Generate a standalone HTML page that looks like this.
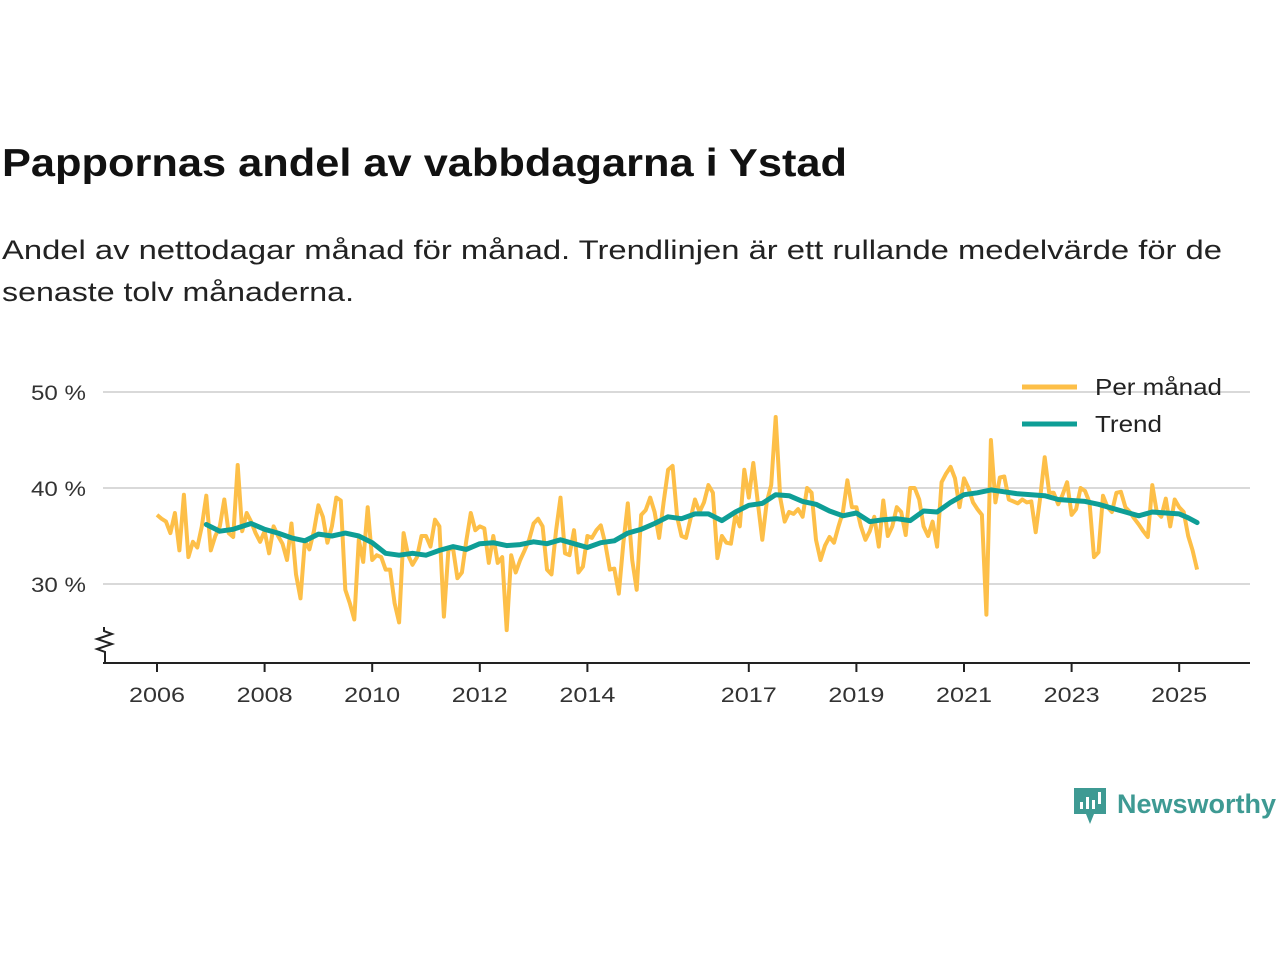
<!DOCTYPE html>
<html><head><meta charset="utf-8"><style>
body{margin:0;background:#fff;width:1280px;height:960px;overflow:hidden;font-family:"Liberation Sans",sans-serif;}
svg text{font-family:"Liberation Sans","DejaVu Sans",sans-serif;}
</style></head><body>
<svg id="chart" width="1280" height="960">
<text x="2" y="176" font-size="39" font-weight="bold" fill="#111" textLength="845" lengthAdjust="spacingAndGlyphs">Pappornas andel av vabbdagarna i Ystad</text>
<text x="2" y="259" font-size="27" fill="#222" textLength="1220" lengthAdjust="spacingAndGlyphs">Andel av nettodagar månad för månad. Trendlinjen är ett rullande medelvärde för de</text>
<text x="2" y="301" font-size="27" fill="#222" textLength="352" lengthAdjust="spacingAndGlyphs">senaste tolv månaderna.</text>
<g id="grid"></g><g id="axes"></g><g id="series"></g>
<g>
<line x1="1022" y1="387" x2="1077" y2="387" stroke="#FDBF48" stroke-width="5"/>
<text x="1095" y="395" font-size="23" fill="#222" textLength="127" lengthAdjust="spacingAndGlyphs">Per månad</text>
<line x1="1022" y1="424" x2="1077" y2="424" stroke="#0E9E96" stroke-width="5"/>
<text x="1095" y="432" font-size="23" fill="#222" textLength="67" lengthAdjust="spacingAndGlyphs">Trend</text>
</g>
<g>
<path d="M1074 788h32v26h-12l-4 10-4-10h-12z" fill="#3E9A93"/>
<rect x="1080" y="802" width="3" height="7" fill="#fff"/><rect x="1086" y="797" width="3" height="12" fill="#fff"/><rect x="1092" y="800" width="3" height="9" fill="#fff"/><rect x="1098" y="792" width="3" height="12" fill="#fff"/>
<text x="1117" y="813" font-size="27" font-weight="bold" fill="#3E9A93" textLength="159" lengthAdjust="spacingAndGlyphs">Newsworthy</text>
</g>
</svg>
<script>
const monthly=[37.2,36.8,36.5,35.3,37.4,33.5,39.3,32.8,34.4,33.8,36,39.2,
33.5,35,36,38.8,35.3,34.9,42.4,35.5,37.4,36.5,35.3,34.4,
35.5,33.2,36,35,34.2,32.5,36.3,31,28.5,34.5,33.6,35.5,
38.2,37,34.3,36,39,38.7,29.4,28,26.3,34.6,32.3,38,
32.5,33,32.8,31.5,31.5,28,26,35.3,33,32,32.8,35,
35,33.9,36.7,36,26.6,33.5,33.8,30.6,31.2,34.5,37.4,35.6,36,35.8,32.2,35,32.2,32.8,25.2,33,31.2,32.5,33.5,34.6,36.3,36.8,36,31.5,31,35.5,39,33.2,33,35.6,31.2,31.8,35,34.8,35.6,36.1,34.2,31.5,31.6,29,34.2,38.4,32.5,29.4,37.2,37.7,39,37.5,34.8,38.5,41.9,42.3,37,35,34.8,36.8,38.8,37.5,38.5,40.3,39.5,32.7,35,
34.3,34.2,37.2,36,41.9,39,42.6,38.5,34.6,38.5,40.3,47.4,39,36.5,37.5,37.3,37.8,37,40,39.5,34.6,32.5,34,34.9,34.3,36,37.5,40.8,38,38,36,34.6,35.5,37,33.9,38.7,35,36,38,37.5,35.1,40,40,38.8,36,35,36.5,33.9,40.6,41.5,42.2,41,38,41,40,38.5,37.8,37.2,26.8,45,38.5,41.1,41.2,38.8,38.6,38.4,38.8,38.5,38.6,35.4,39,43.2,39.5,39.5,38.3,39.3,40.6,37.2,37.8,40,39.7,38.5,32.8,33.3,39.2,38,37.5,39.5,39.6,38,37.5,36.8,36.2,35.5,34.9,40.3,37.5,37,38.9,36,38.8,38,37.5,35,33.5,31.5];
const trendMonths=[11,14,17,21,24,27,30,33,36,39,42,45,48,51,54,57,60,63,66,69,72,75,78,81,84,87,90,93,96,99,102,105,108,111,114,117,120,123,126,129,132,135,138,141,144,147,150,153,156,159,162,165,168,171,174,177,180,183,186,189,192,195,198,201,204,207,210,213,216,219,222,225,228,230,232];
const trendValues=[36.2,35.5,35.7,36.3,35.7,35.3,34.8,34.5,35.2,35,35.3,35,34.3,33.2,33,33.2,33,33.5,33.9,33.6,34.2,34.3,34,34.1,34.4,34.2,34.6,34.2,33.8,34.3,34.5,35.3,35.7,36.3,37,36.8,37.3,37.3,36.6,37.5,38.2,38.4,39.3,39.2,38.6,38.3,37.6,37.1,37.4,36.5,36.7,36.8,36.6,37.6,37.5,38.5,39.3,39.5,39.8,39.6,39.4,39.3,39.2,38.8,38.7,38.6,38.3,37.9,37.5,37.1,37.5,37.4,37.3,36.9,36.4];
const yTicks=[30,40,50];
const yTickLabels=["30 %","40 %","50 %"];
const xTickYears=[2006,2008,2010,2012,2014,2017,2019,2021,2023,2025];
const NS='http://www.w3.org/2000/svg';
const X0=157,PXY=53.8;
function xm(i){return X0+i*PXY/12;}
function xy(yr){return X0+(yr-2006)*PXY;}
function yv(v){return 488-(v-40)*9.6;}
function mk(t,a,p){const e=document.createElementNS(NS,t);for(const k in a)e.setAttribute(k,a[k]);p.appendChild(e);return e;}
const grid=document.getElementById('grid'),axes=document.getElementById('axes'),ser=document.getElementById('series');
yTicks.forEach((v,i)=>{
 const l=mk('line',{x1:103,x2:1250,y1:yv(v),y2:yv(v),stroke:'#d9d9d9','stroke-width':2},grid);
 
 
 const t=mk('text',{x:86,y:yv(v)+8,'font-size':21,fill:'#333','text-anchor':'end',textLength:55,lengthAdjust:'spacingAndGlyphs'},axes);
 t.textContent=yTickLabels[i];
 
 
});
const ax=mk('line',{x1:103,x2:1250,y1:663,y2:663,stroke:'#222','stroke-width':2},axes);


const zz=mk('path',{d:'M105 662V652l-8-3 15-5-15-5 15-5-8-3V627',fill:'none',stroke:'#222','stroke-width':2},axes);


xTickYears.forEach(yr=>{
 const x=xy(yr);
 const tk=mk('line',{x1:x,x2:x,y1:663,y2:672,stroke:'#222','stroke-width':2},axes);
 
 
 const t=mk('text',{x:x,y:702,'font-size':21,fill:'#333','text-anchor':'middle',textLength:56,lengthAdjust:'spacingAndGlyphs'},axes);
 t.textContent=yr;
 
 
});
const mp=monthly.map((v,i)=>xm(i).toFixed(1)+','+yv(v).toFixed(1)).join(' ');
const ml=mk('polyline',{points:mp,fill:'none',stroke:'#FDBF48','stroke-width':4,'stroke-linejoin':'round'},ser);


const tp=trendValues.map((v,i)=>xm(trendMonths[i]).toFixed(1)+','+yv(v).toFixed(1)).join(' ');
const tl=mk('polyline',{points:tp,fill:'none',stroke:'#0E9E96','stroke-width':5,'stroke-linejoin':'round','stroke-linecap':'round'},ser);


</script>
</body></html>
